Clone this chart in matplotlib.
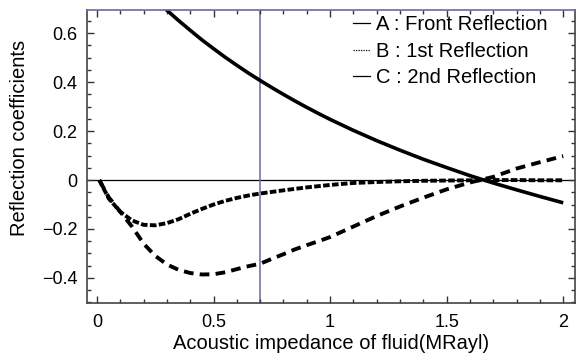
import numpy as np
import matplotlib
matplotlib.use('Agg')
from matplotlib import pyplot as plt
from matplotlib.lines import Line2D
from matplotlib.ticker import MultipleLocator

plt.rcParams['font.family'] = ['Liberation Sans', 'DejaVu Sans']

# A : front reflection
za = [0.25, 0.3, 0.35, 0.4, 0.45, 0.5, 0.55, 0.6, 0.65, 0.7, 0.75, 0.8, 0.85, 0.9, 0.95,
      1.0, 1.1, 1.2, 1.3, 1.4, 1.5, 1.6, 1.7, 1.8, 1.9, 2.0]
ra = [0.738, 0.694, 0.652, 0.612, 0.573, 0.537, 0.502, 0.469, 0.437, 0.407, 0.378, 0.350,
      0.323, 0.297, 0.272, 0.248, 0.203, 0.161, 0.122, 0.085, 0.051, 0.018, -0.012, -0.040,
      -0.067, -0.093]

# B : 1st reflection
zb = [0.01, 0.05, 0.1, 0.15, 0.2, 0.25, 0.3, 0.35, 0.4, 0.45, 0.5, 0.55, 0.6, 0.65, 0.7,
      0.8, 0.9, 1.0, 1.1, 1.2, 1.3, 1.4, 1.5, 1.6, 1.7, 1.8, 1.9, 2.0]
rb = [0.0, -0.075, -0.13, -0.165, -0.183, -0.185, -0.176, -0.16, -0.138, -0.118, -0.1,
      -0.085, -0.073, -0.063, -0.055, -0.042, -0.03, -0.02, -0.012, -0.008, -0.005, -0.003,
      -0.002, -0.001, 0.0, 0.0, -0.001, -0.001]

# C : 2nd reflection
zc = [0.01, 0.05, 0.1, 0.15, 0.2, 0.25, 0.3, 0.35, 0.4, 0.45, 0.5, 0.55, 0.6, 0.65, 0.7,
      0.75, 0.8, 0.85, 0.9, 0.95, 1.0, 1.1, 1.2, 1.3, 1.4, 1.5, 1.6, 1.7, 1.8, 1.9, 2.0]
rc = [0.0, -0.07, -0.13, -0.19, -0.26, -0.31, -0.345, -0.367, -0.38, -0.386, -0.385, -0.377,
      -0.364, -0.352, -0.342, -0.322, -0.303, -0.283, -0.266, -0.25, -0.233, -0.19, -0.147,
      -0.108, -0.072, -0.038, -0.01, 0.013, 0.047, 0.073, 0.098]

z_mark = 0.7
legend_labels = ['A : Front Reflection', 'B : 1st Reflection', 'C : 2nd Reflection']

blue = '#6a6a9c'

fig = plt.figure(figsize=(5.76, 3.58), dpi=100)
ax = fig.add_axes([0.151, 0.154, 0.847, 0.818])

ax.axhline(0, color='black', lw=0.9, zorder=1)
ax.axvline(z_mark, color=blue, lw=1.1, zorder=1)

ax.plot(za, ra, color='black', lw=2.6, solid_capstyle='butt')
ax.plot(zb, rb, color='black', lw=2.8, linestyle=(0, (1.7, 0.6)))
ax.plot(zc, rc, color='black', lw=2.8, linestyle=(0, (2.5, 1.6)))

ax.set_xlim(-0.043, 2.05)
ax.set_ylim(-0.502, 0.695)

ax.xaxis.set_major_locator(MultipleLocator(0.5))
ax.xaxis.set_minor_locator(MultipleLocator(0.1))
ax.yaxis.set_major_locator(MultipleLocator(0.2))
ax.yaxis.set_minor_locator(MultipleLocator(0.05))
ax.xaxis.set_major_formatter(plt.FuncFormatter(lambda v, p: '%g' % v))
ax.yaxis.set_major_formatter(plt.FuncFormatter(lambda v, p: ('%g' % v).replace('-', '\u2212') if abs(v) > 1e-9 else '0'))

ax.tick_params(which='both', direction='in', top=True, right=True, labelsize=13, color='#333333')
ax.tick_params(which='major', length=5, width=1)
ax.tick_params(which='minor', length=3, width=1)
ax.tick_params(axis='x', pad=8)
ax.tick_params(axis='y', pad=7)

for s in ['left', 'bottom', 'right']:
    ax.spines[s].set_color('#444444')
    ax.spines[s].set_linewidth(1.2)
ax.spines['top'].set_color(blue)
ax.spines['top'].set_linewidth(1.2)

ax.set_xlabel('Acoustic impedance of fluid(MRayl)', fontsize=14.5)
ax.xaxis.set_label_coords(0.5, -0.106)
ax.set_ylabel('Reflection coefficients', fontsize=14.5)
ax.yaxis.set_label_coords(-0.118, 0.563)

handles = [Line2D([], [], color='black', lw=0.9),
           Line2D([], [], color='black', lw=0.9, linestyle=(0, (1, 1))),
           Line2D([], [], color='black', lw=0.9)]
ax.legend(handles, legend_labels, loc='upper left', frameon=False, fontsize=14.5,
          handlelength=0.85, handletextpad=0.3, labelspacing=0.38, borderpad=0.4,
          bbox_to_anchor=(0.508, 1.045))

fig.savefig('out.png', dpi=100)
